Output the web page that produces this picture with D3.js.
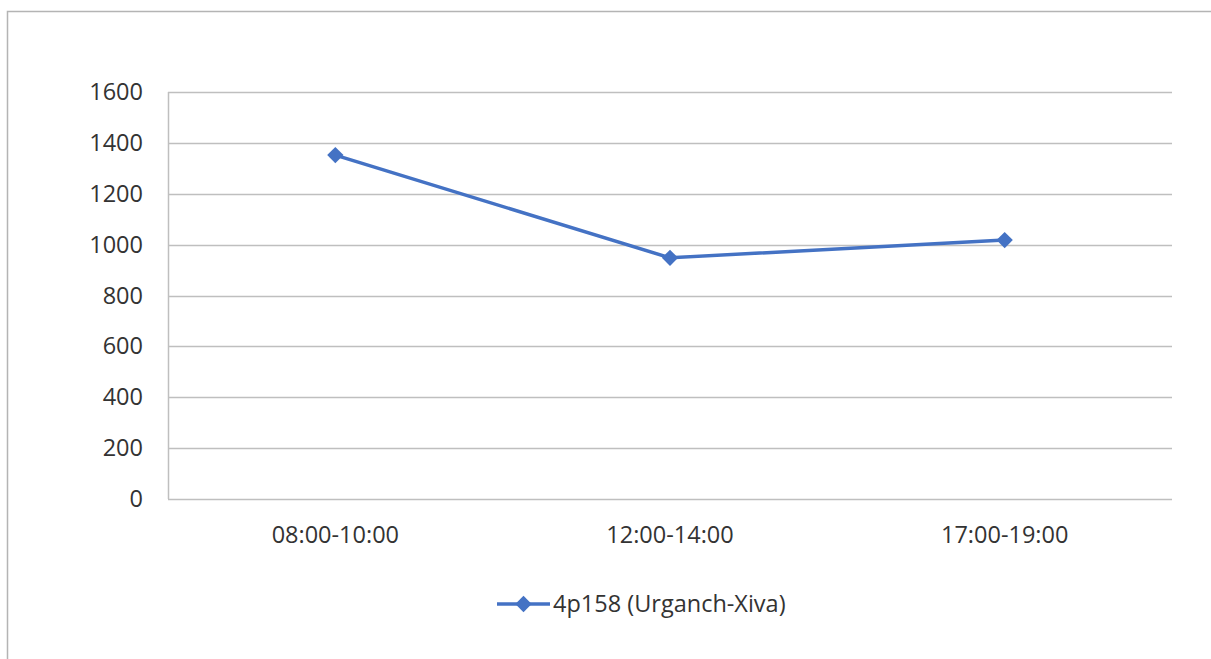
<!DOCTYPE html>
<html>
<head>
<meta charset="utf-8">
<script src="https://cdn.jsdelivr.net/npm/d3@7/dist/d3.min.js"></script>
<style>
  html, body { margin: 0; padding: 0; background: #fff; }
  svg { display: block; }
</style>
</head>
<body>
<svg id="chart" width="1211" height="659"></svg>
<script>
const categories = ["08:00-10:00", "12:00-14:00", "17:00-19:00"];
const seriesName = "4p158 (Urganch-Xiva)";
const seriesValues = [1352, 948, 1018];
const yTicks = [0, 200, 400, 600, 800, 1000, 1200, 1400, 1600];

const svg = d3.select("#chart");
const W = 1211, H = 659;
const margin = { left: 168, right: 1172, top: 92, bottom: 499 };
const font = "'Open Sans', 'Noto Sans', sans-serif";
const fontSize = 23.5;
const textColor = "#333333";
const gridColor = "#bfbfbf";
const lineColor = "#4472C4";

// outer border (top and left only visible)
svg.append("path")
  .attr("d", `M7.5,${H} L7.5,11.5 L${W},11.5`)
  .attr("fill", "none").attr("stroke", "#b4b4b4").attr("stroke-width", 1.5);

const x = d3.scaleBand().domain(categories).range([margin.left, margin.right]);
const y = d3.scaleLinear().domain([0, 1600]).range([margin.bottom, margin.top]);

// gridlines
svg.append("g").selectAll("line").data(yTicks).join("line")
  .attr("x1", margin.left).attr("x2", margin.right)
  .attr("y1", d => Math.round(y(d)) + 0.5).attr("y2", d => Math.round(y(d)) + 0.5)
  .attr("stroke", gridColor).attr("stroke-width", 1.5);

// left axis line
svg.append("line")
  .attr("x1", margin.left + 0.5).attr("x2", margin.left + 0.5)
  .attr("y1", margin.top).attr("y2", margin.bottom)
  .attr("stroke", gridColor).attr("stroke-width", 1.5);

// y axis labels
const yAxis = d3.axisLeft(y).tickValues(yTicks).tickFormat(d3.format("d")).tickSize(0).tickPadding(25);
const gy = svg.append("g").attr("transform", `translate(${margin.left},0)`).call(yAxis);
gy.select(".domain").remove();
gy.attr("font-size", null).attr("font-family", null);
gy.selectAll("text").attr("font-family", font).attr("font-size", fontSize).attr("fill", textColor);

// x axis labels
const xAxis = d3.axisBottom(x).tickSize(0).tickPadding(27);
const gx = svg.append("g").attr("transform", `translate(0,${margin.bottom})`).call(xAxis);
gx.select(".domain").remove();
gx.attr("font-size", null).attr("font-family", null);
gx.selectAll("text").attr("font-family", font).attr("font-size", fontSize).attr("fill", textColor);

// line
const pts = categories.map((c, i) => [x(c) + x.bandwidth() / 2, y(seriesValues[i])]);
svg.append("path")
  .attr("d", d3.line()(pts))
  .attr("fill", "none").attr("stroke", lineColor).attr("stroke-width", 3.5).attr("stroke-linejoin", "round");

const diamond = d3.symbol().type(d3.symbolDiamond2).size(170);
svg.append("g").selectAll("path").data(pts).join("path")
  .attr("d", diamond)
  .attr("transform", d => `translate(${d[0]},${d[1]})`)
  .attr("fill", lineColor);

// legend
const ly = 604;
svg.append("line").attr("x1", 497).attr("x2", 550).attr("y1", ly).attr("y2", ly)
  .attr("stroke", lineColor).attr("stroke-width", 3.5);
svg.append("path").attr("d", diamond).attr("transform", `translate(523.5,${ly})`).attr("fill", lineColor);
svg.append("text").attr("x", 553).attr("y", ly).attr("dy", "0.35em")
  .attr("font-family", font).attr("font-size", fontSize).attr("fill", textColor)
  .text(seriesName);
</script>
</body>
</html>
